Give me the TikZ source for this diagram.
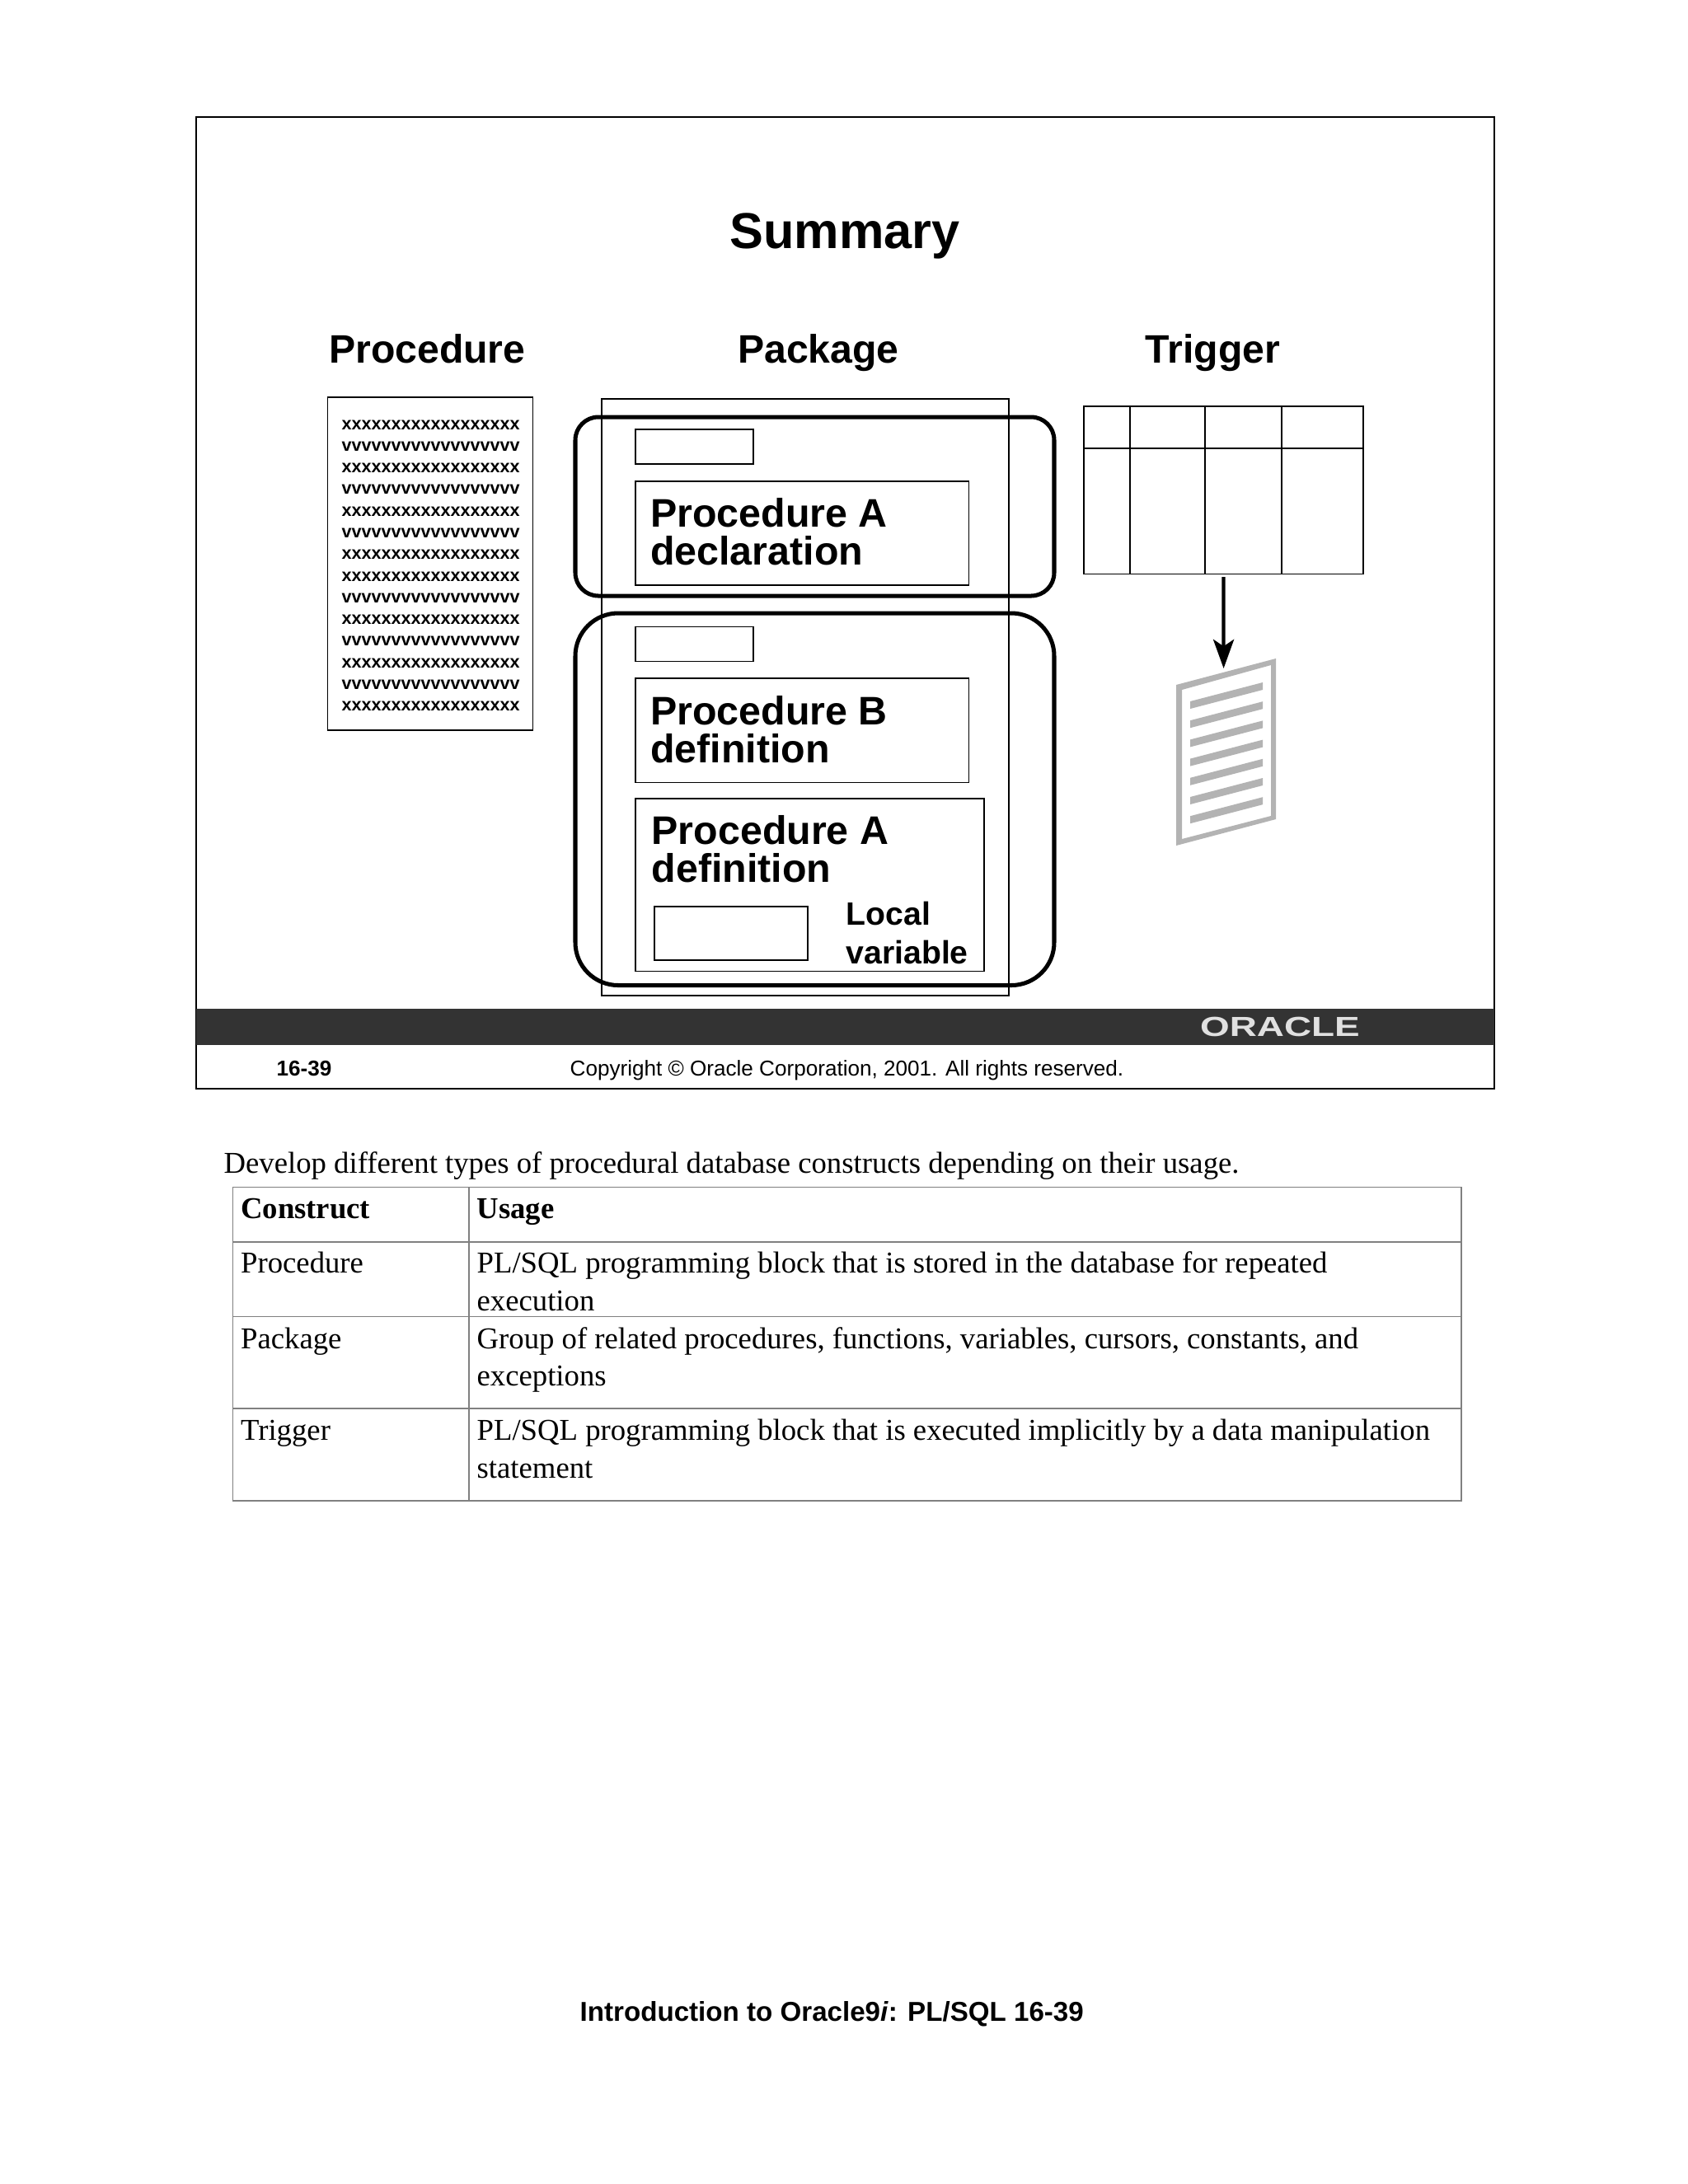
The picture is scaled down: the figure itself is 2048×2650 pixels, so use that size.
\documentclass[tikz,border=0pt]{standalone}
\usepackage{fontspec}
\setmainfont{Liberation Sans}
\newfontfamily\serifbody{Liberation Serif}
\usetikzlibrary{arrows.meta,positioning}
\newcommand{\px}{0.2988pt}
\definecolor{barc}{HTML}{333333}
\definecolor{pagec}{HTML}{B3B3B3}
\definecolor{rulec}{HTML}{808080}
\tikzset{
  size/.style 2 args={minimum width=#1*\px,minimum height=#2*\px},
  box/.style      ={draw,line width=0.5pt,anchor=north west,inner sep=0pt,outer sep=0pt},
  thinbox/.style  ={box,line width=0.5pt},
  group/.style    ={box,line width=1.5pt},
  headline/.style ={anchor=base west,font=\fontsize{14.4}{16}\selectfont\bfseries},
  biglabel/.style ={anchor=base west,align=left,inner sep=0pt,
                    font=\fontsize{14.45}{13.7}\selectfont\bfseries},
  smalllabel/.style={anchor=base west,align=left,inner sep=0pt,
                    font=\fontsize{11.7}{14}\selectfont\bfseries},
  listing/.style  ={anchor=north west,inner sep=0pt,align=left,font=\fontsize{6.45}{7.85}\selectfont\bfseries},
  bodytext/.style ={anchor=base west,inner sep=0pt,font=\serifbody\fontsize{10.97}{13}\selectfont},
  headtext/.style ={bodytext,font=\serifbody\fontsize{10.97}{13}\selectfont\bfseries},
  footer/.style   ={anchor=base west,inner sep=0pt,font=\fontsize{7.8}{10}\selectfont},
  flow/.style     ={-{Stealth[length=10.5pt,width=7.5pt,inset=2.5pt]},line width=1.25pt},
  cell/.style     ={draw=rulec,line width=0.4pt},
}
\begin{document}
\begin{tikzpicture}[x=\px,y=-\px]
  \path[use as bounding box,fill=white] (0,0) rectangle (2048,2650);
  % slide frame and footer bar
  \draw[line width=0.6pt] (238,142) rectangle (1813,1321);
  \fill[barc] (238,1224) rectangle (1813,1268);
  \node[white!88!black,anchor=base,inner sep=0pt,xscale=1.37,font=\fontsize{10}{12}\selectfont\bfseries]
       (logo) at (1553,1257) {ORACLE};
  \node[footer,font=\fontsize{7.8}{10}\selectfont\bfseries] (slideno) at (335,1305.5) {16-39};
  \node[footer] (copyr) at (691,1305.5) {Copyright © Oracle Corporation, 2001. All rights reserved.};
  % headings
  \node[anchor=base west,inner sep=0pt,font=\fontsize{18.3}{20}\selectfont\bfseries] (title) at (885,301) {Summary};
  \node[headline,inner sep=0pt] (hproc) at (398.5,440) {Procedure};
  \node[headline,inner sep=0pt] (hpack) at (894.5,440) {Package};
  \node[headline,inner sep=0pt] (htrig) at (1389,440) {Trigger};
  % procedure listing
  \node[box,size={249}{404}] (listbox) at (397.5,482) {};
  \node[listing] (listing) at (414,509) {xxxxxxxxxxxxxxxxxx\\vvvvvvvvvvvvvvvvvv\\xxxxxxxxxxxxxxxxxx\\vvvvvvvvvvvvvvvvvv\\xxxxxxxxxxxxxxxxxx\\vvvvvvvvvvvvvvvvvv\\xxxxxxxxxxxxxxxxxx\\xxxxxxxxxxxxxxxxxx\\vvvvvvvvvvvvvvvvvv\\xxxxxxxxxxxxxxxxxx\\vvvvvvvvvvvvvvvvvv\\xxxxxxxxxxxxxxxxxx\\vvvvvvvvvvvvvvvvvv\\xxxxxxxxxxxxxxxxxx};
  % package
  \node[thinbox,size={494}{724}] (pack) at (730,484) {};
  \node[group,rounded corners=28*\px,size={581}{217}] (spec) at (698,506) {};
  \node[group,rounded corners=52*\px,size={581}{451.5}] (body) at (698,744) {};
  \node[thinbox,size={143}{42}] (vars1) at (771,521) {};
  \node[thinbox,size={404.5}{126}] (decla) at (771,584) {};
  \node[biglabel] (ldecla) at (788.5,685) {Procedure A\\declaration};
  \node[thinbox,size={143}{42}] (vars2) at (771,760.6) {};
  \node[thinbox,size={404.5}{126.5}] (defb) at (771,823) {};
  \node[biglabel] (ldefb) at (788.5,925) {Procedure B\\definition};
  \node[thinbox,size={423}{209.5}] (defa) at (771,969) {};
  \node[biglabel] (ldefa) at (790,1070.5) {Procedure A\\definition};
  \node[thinbox,size={186}{65}] (local) at (794,1100) {};
  \node[smalllabel] (llocal) at (1026,1169.5) {Local\\variable};
  % trigger table
  \node[box,size={339}{203.5}] (trigtab) at (1315,493) {};
  \draw[line width=0.6pt] (1315,544) -- (1654,544);
  \foreach \colx in {1371,1462,1555}
    \draw[line width=0.6pt] (\colx,493) -- (\colx,696.5);
  % output page
  \fill[pagec,even odd rule] (1427,831) -- (1548,799) -- (1548,994) -- (1427,1026) -- cycle
       (1434,837) -- (1542,807) -- (1542,990) -- (1434,1018) -- cycle;
  \foreach \i in {0,...,6}
    \fill[pagec] (1444,851+23.2*\i) -- (1532,828+23.2*\i) -- (1532,837+23.2*\i) -- (1444,860+23.2*\i) -- cycle;
  \coordinate (pagetop) at (1484.6,811);
  \draw[flow,shorten <=3.5*\px] (trigtab.south) -- (pagetop);
  % text under the slide
  \node[bodytext] (intro) at (271,1423) {Develop different types of procedural database constructs depending on their usage.};
  \draw[cell] (282.6,1440.7) rectangle (1773,1821);
  \foreach \rowy in {1507,1597.5,1709}
    \draw[cell] (282.6,\rowy) -- (1773,\rowy);
  \draw[cell] (569,1440.7) -- (569,1821);
  \node[headtext] (c1) at (291.5,1478) {Construct};
  \node[headtext] (u1) at (578,1478) {Usage};
  \node[bodytext] (c2) at (291.5,1544) {Procedure};
  \node[bodytext] (u2) at (578,1544) {PL/SQL programming block that is stored in the database for repeated};
  \node[bodytext] (u2b) at (578,1590) {execution};
  \node[bodytext] (c3) at (291.5,1636) {Package};
  \node[bodytext] (u3) at (578,1636) {Group of related procedures, functions, variables, cursors, constants, and};
  \node[bodytext] (u3b) at (578,1681) {exceptions};
  \node[bodytext] (c4) at (291.5,1747) {Trigger};
  \node[bodytext] (u4) at (578,1747) {PL/SQL programming block that is executed implicitly by a data manipulation};
  \node[bodytext] (u4b) at (578,1793) {statement};
  % page footer
  \node[anchor=base west,inner sep=0pt,font=\fontsize{9.9}{12}\selectfont\bfseries] (pagefoot) at (703,2452) {Introduction to Oracle9\textit{i}: PL/SQL 16-39};
\end{tikzpicture}
\end{document}
